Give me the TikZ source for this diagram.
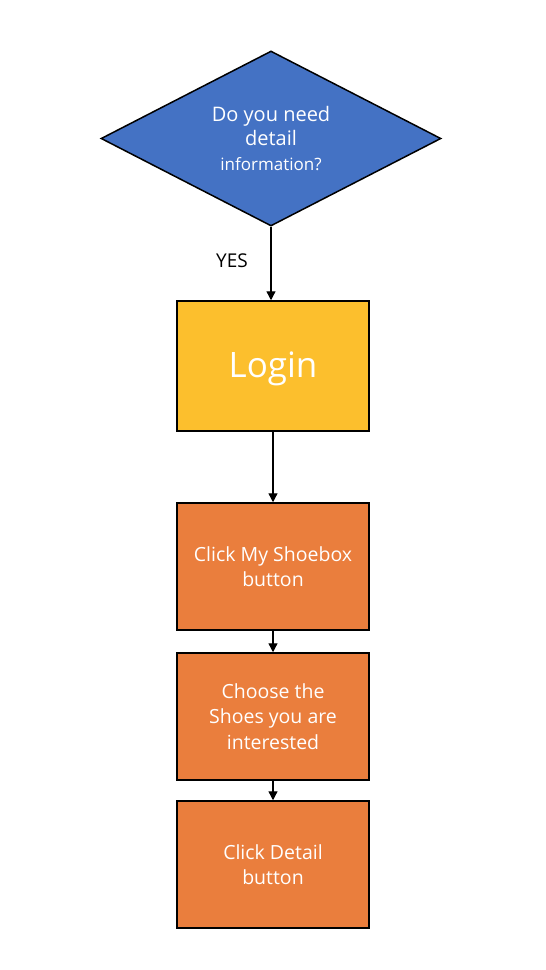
\documentclass[tikz,border=0pt]{standalone}
\usepackage{fontspec}
\setmainfont{Open Sans}
\usetikzlibrary{shapes.geometric,arrows.meta}
\definecolor{dblue}{HTML}{4472C4}
\definecolor{lyellow}{HTML}{FCBF2D}
\definecolor{borange}{HTML}{EA7E3D}
\tikzset{
  decision/.style={diamond,aspect=1.94,draw=black,line width=1.5pt,fill=dblue,text=white,minimum width=340pt,minimum height=175pt,inner sep=0pt,align=center,font=\fontsize{20}{24.5}\selectfont},
  loginbox/.style={rectangle,draw=black,line width=1.5pt,fill=lyellow,text=white,minimum width=192pt,minimum height=130pt,inner sep=0pt,font=\fontsize{35}{40}\selectfont},
  stepbox/.style={rectangle,draw=black,line width=1.5pt,fill=borange,text=white,minimum width=192pt,minimum height=127pt,inner sep=0pt,align=center,font=\fontsize{19.5}{25.5}\selectfont},
  conn/.style={-{Triangle[length=9pt,width=9pt]},line width=1.3pt,black},
}
\begin{document}
\begin{tikzpicture}[x=1pt,y=-1pt]
\useasboundingbox[fill=white] (0,0) rectangle (546,970);
\node[decision] (q) at (271,138.5) {Do you need\\detail\\{\fontsize{17}{24.5}\selectfont information?}};
\node[loginbox] (login) at (273,366) {\raisebox{-11pt}[0pt][0pt]{Login}};
\node[stepbox] (s1) at (273,566.5) {Click My Shoebox\\button};
\node[stepbox] (s2) at (273,716.5) {Choose the\\Shoes you are\\interested};
\node[stepbox] (s3) at (273,864.5) {Click Detail\\button};
\node[font=\fontsize{19}{22}\selectfont] (yes) at (232,261) {YES};
\draw[conn] (q.south) -- (q.south |- login.north);
\draw[conn] (login) -- (s1);
\draw[conn] (s1) -- (s2);
\draw[conn] (s2) -- (s3);
\end{tikzpicture}
\end{document}
